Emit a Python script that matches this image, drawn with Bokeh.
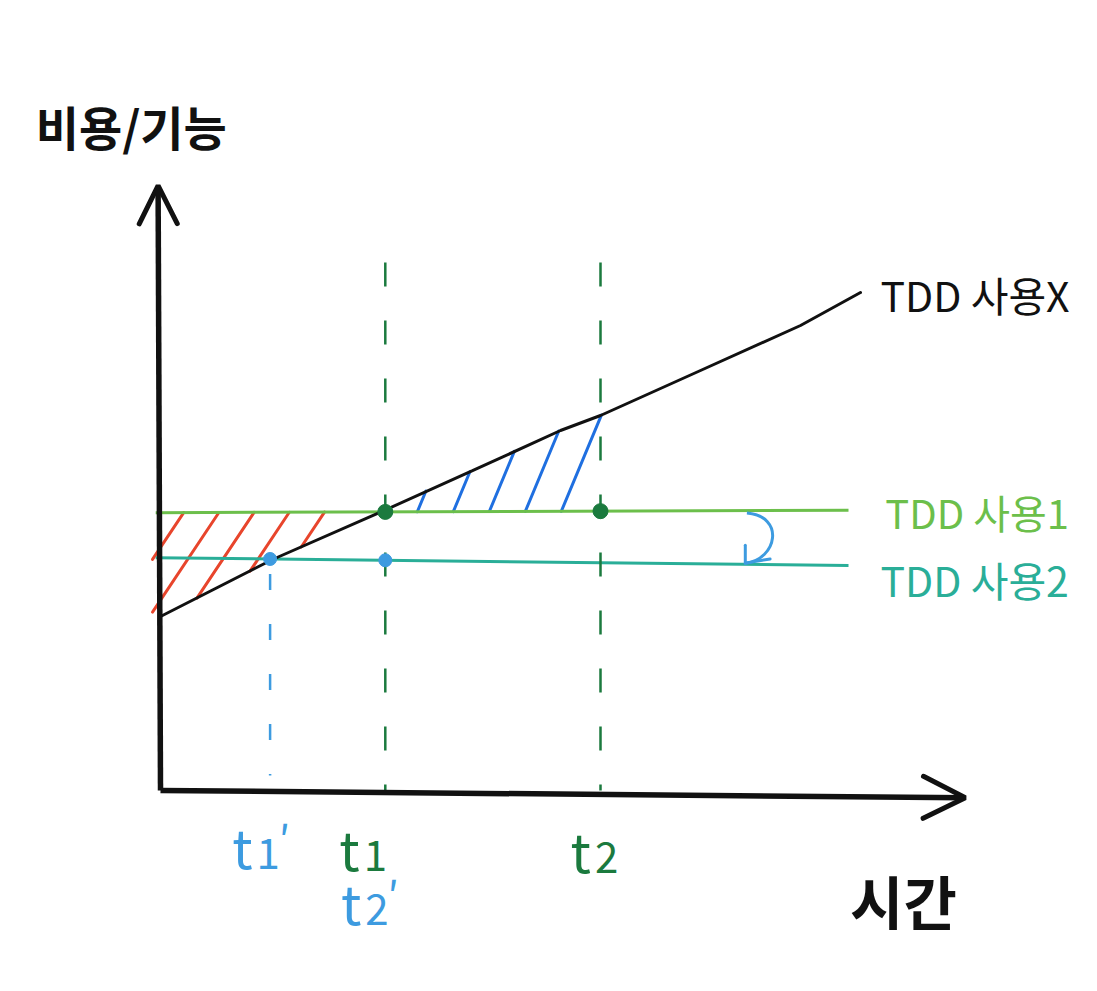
import numpy as np
from bokeh.plotting import figure
from bokeh.models import Range1d, Arrow, OpenHead
from bokeh.core.properties import value
from bokeh.embed import file_html
from bokeh.resources import INLINE

# --- values (time on x, cost per feature on y, arbitrary units) ---
no_tdd_time = [0.0, 1.4, 2.8, 3.9, 5.0, 5.5, 6.75, 8.0, 8.75]
no_tdd_cost = [2.9, 3.85, 4.67, 5.33, 6.0, 6.25, 7.0, 7.75, 8.3]
level_time = [-0.06, 8.6]
tdd1_cost = [4.63, 4.67]
tdd2_cost = [3.88, 3.75]
t1_prime = 1.37
t1 = 2.81
t2 = 5.5
time_axis_max = 10.06
cost_axis_max = 10.08

# --- colours ---
INK = "#111111"
GREEN = "#6cbf4b"
TEAL = "#2aae98"
DARK_GREEN = "#1b7a3e"
LIGHT_BLUE = "#3d9be0"
HATCH_BLUE = "#1f6fe0"
RED = "#e8452c"
KR = value("Noto Sans CJK KR")


def no_tdd(x):
    return np.interp(x, no_tdd_time, no_tdd_cost)


def tdd1(x):
    return np.interp(x, level_time, tdd1_cost)


def tdd2(x):
    return np.interp(x, level_time, tdd2_cost)


p = figure(width=1097, height=991,
           x_range=Range1d(-2.0, 11.7125), y_range=Range1d(-3.35, 13.1667),
           output_backend="svg", toolbar_location=None,
           x_axis_location=None, y_axis_location=None, min_border=0)
p.grid.visible = False
p.outline_line_color = None
p.background_fill_color = "white"
p.border_fill_color = "white"

# hatched strokes: red where the no-TDD cost is below TDD level 1,
# blue where it has climbed above it (between t1 and t2)
red_x0, red_y0, red_x1, red_y1 = [], [], [], []
for c in np.arange(0.29, 2.2, 0.44):
    top = float(tdd1(c))
    xs = np.linspace(-0.1, c, 600)
    ys = top + 2.0 * (xs - c)
    below = np.where(ys <= no_tdd(xs))[0]
    i = below[-1] if len(below) else 0
    red_x0.append(xs[i]); red_y0.append(ys[i])
    red_x1.append(c); red_y1.append(top)
p.segment(red_x0, red_y0, red_x1, red_y1, line_color=RED, line_width=3, line_cap="round")

blue_x0, blue_y0, blue_x1, blue_y1 = [], [], [], []
for c in np.arange(3.21, 5.1, 0.45):
    bottom = float(tdd1(c))
    xs = np.linspace(c, t2 + 0.2, 600)
    ys = bottom + 3.2 * (xs - c)
    above = np.where(ys >= no_tdd(xs))[0]
    i = above[0] if len(above) else len(xs) - 1
    blue_x0.append(c); blue_y0.append(bottom)
    blue_x1.append(xs[i]); blue_y1.append(ys[i])
p.segment(blue_x0, blue_y0, blue_x1, blue_y1, line_color=HATCH_BLUE, line_width=3, line_cap="round")

# level lines for the two TDD cases
p.line(level_time, tdd1_cost, line_color=GREEN, line_width=3)
p.line(level_time, tdd2_cost, line_color=TEAL, line_width=3)

# cost curve without TDD
p.line(no_tdd_time, no_tdd_cost, line_color=INK, line_width=3, line_cap="round")

# time markers
p.segment([t1, t2], [8.8, 8.8], [t1, t2], [0, 0],
          line_color=DARK_GREEN, line_width=2.5, line_dash="24 34")
p.segment([t1_prime], [float(tdd2(t1_prime)) - 0.25], [t1_prime], [0.25],
          line_color=LIGHT_BLUE, line_width=2.5, line_dash="16 34")

p.scatter([t1, t2], [float(tdd1(t1)), float(tdd1(t2))], size=15,
          fill_color=DARK_GREEN, line_color=DARK_GREEN)
p.scatter([t1_prime, t1], [float(tdd2(t1_prime)), float(tdd2(t1))], size=13,
          fill_color=LIGHT_BLUE, line_color=LIGHT_BLUE)

# curved arrow: level 1 drops to level 2
ax = 7.33
s_y = float(tdd1(ax)) - 0.04
e_x = ax - 0.02
e_y = float(tdd2(e_x)) + 0.02
p.bezier(x0=[ax], y0=[s_y], x1=[e_x], y1=[e_y],
         cx0=[ax + 0.48], cy0=[s_y - 0.05], cx1=[ax + 0.38], cy1=[e_y + 0.06],
         line_color=LIGHT_BLUE, line_width=3)
p.segment([e_x, e_x], [e_y, e_y], [e_x, e_x + 0.31], [e_y + 0.3, e_y + 0.07],
          line_color=LIGHT_BLUE, line_width=3, line_cap="round")

# axes with open arrow heads
p.add_layout(Arrow(end=OpenHead(size=38, line_width=5, line_color=INK, line_cap="round"),
                   x_start=0.0, y_start=0.0, x_end=-0.03, y_end=cost_axis_max,
                   line_width=5.5, line_color=INK))
p.add_layout(Arrow(end=OpenHead(size=42, line_width=5, line_color=INK, line_cap="round"),
                   x_start=0.0, y_start=0.0, x_end=time_axis_max, y_end=-0.12,
                   line_width=5.5, line_color=INK))

# series labels
p.text([no_tdd_time[-1] + 0.25], [no_tdd_cost[-1] - 0.03], text=["TDD 사용X"],
       text_font=KR, text_font_size=value("41px"), text_color=INK,
       text_baseline="middle", text_align="left")
p.text([level_time[-1] + 0.46], [tdd1_cost[-1] - 0.02], text=["TDD 사용1"],
       text_font=KR, text_font_size=value("40px"), text_color=GREEN,
       text_baseline="middle", text_align="left")
p.text([level_time[-1] + 0.4], [tdd2_cost[-1] - 0.22], text=["TDD 사용2"],
       text_font=KR, text_font_size=value("41px"), text_color=TEAL,
       text_baseline="middle", text_align="left")

# axis titles
p.text([-1.56], [11.08], text=["비용/기능"], text_font=KR,
       text_font_size=value("47px"), text_font_style="bold", text_color=INK,
       text_baseline="middle", text_align="left")
p.text([8.62], [-1.83], text=["시간"], text_font=KR,
       text_font_size=value("58px"), text_font_style="bold", text_color=INK,
       text_baseline="middle", text_align="left")


def time_label(x, y, index, primed, color):
    """Draw a 't' with a lowered index digit and an optional prime."""
    p.text([x], [y], text=["t"], text_font=KR, text_font_size=value("54px"),
           text_color=color, text_baseline="middle", text_align="right")
    p.text([x], [y], text=[index], text_font=KR, text_font_size=value("42px"),
           text_color=color, text_baseline="middle", text_align="left",
           x_offset=4, y_offset=8)
    if primed:
        p.text([x], [y], text=["′"], text_font=KR, text_font_size=value("42px"),
               text_color=color, text_baseline="middle", text_align="left",
               x_offset=26, y_offset=-8)


time_label(t1_prime - 0.22, -0.92, "1", True, LIGHT_BLUE)
time_label(t1 - 0.32, -0.95, "1", False, DARK_GREEN)
time_label(t2 - 0.12, -0.98, "2", False, DARK_GREEN)
time_label(t1 - 0.3, -1.85, "2", True, LIGHT_BLUE)

open("out.html", "w").write(file_html(p, INLINE))
